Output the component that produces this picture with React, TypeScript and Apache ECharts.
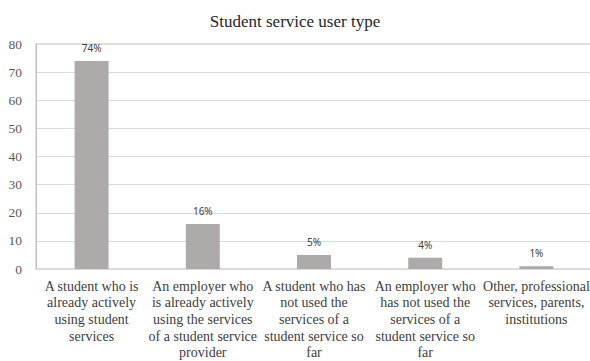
import React, { useEffect, useRef } from "react";
import * as echarts from "echarts";

const titleText = "Student service user type";
const categories = [
  "A student who is\nalready actively\nusing student\nservices",
  "An employer who\nis already actively\nusing the services\nof a student service\nprovider",
  "A student who has\nnot used the\nservices of a\nstudent service so\nfar",
  "An employer who\nhas not used the\nservices of a\nstudent service so\nfar",
  "Other, professional\nservices, parents,\ninstitutions",
];
const values = [74, 16, 5, 4, 1];

export default function App() {
  const ref = useRef<HTMLDivElement>(null);
  useEffect(() => {
    const chart = echarts.init(ref.current!, null, { renderer: "svg" });
    chart.setOption({
      animation: false,
      title: {
        text: titleText,
        left: "center",
        top: 8,
        textStyle: {
          fontFamily: "Liberation Serif",
          fontSize: 17,
          fontWeight: "normal",
          color: "#262626",
        },
      },
      grid: {
        left: 36,
        right: -2,
        top: 44,
        bottom: 92,
        outerBoundsMode: "none",
        containLabel: false,
        show: true,
        borderColor: "#bfbfbf",
        borderWidth: 1,
      },
      xAxis: {
        type: "category",
        data: categories,
        axisLine: { lineStyle: { color: "#d9d9d9" } },
        axisTick: { show: false },
        axisLabel: {
          interval: 0,
          fontFamily: "Liberation Serif",
          fontSize: 14,
          lineHeight: 16.6,
          color: "#404040",
          margin: 9,
        },
      },
      yAxis: {
        type: "value",
        min: 0,
        max: 80,
        interval: 10,
        axisLine: { show: true, lineStyle: { color: "#bfbfbf" } },
        axisTick: { show: false },
        splitLine: { lineStyle: { color: "#d9d9d9" } },
        axisLabel: {
          fontFamily: "Liberation Serif",
          fontSize: 13.5,
          color: "#595959",
          margin: 14,
        },
      },
      series: [
        {
          type: "bar",
          data: values,
          barWidth: 34,
          itemStyle: { color: "#aeaaaa" },
          label: {
            show: true,
            position: "top",
            distance: 8,
            formatter: "{c}%",
            fontFamily: "Noto Sans",
            fontSize: 10,
            color: "#404040",
          },
        },
      ],
    });
    return () => chart.dispose();
  }, []);
  return (
    <div
      ref={ref}
      style={{ position: "absolute", left: 0, top: 0, width: 590, height: 361 }}
    />
  );
}
